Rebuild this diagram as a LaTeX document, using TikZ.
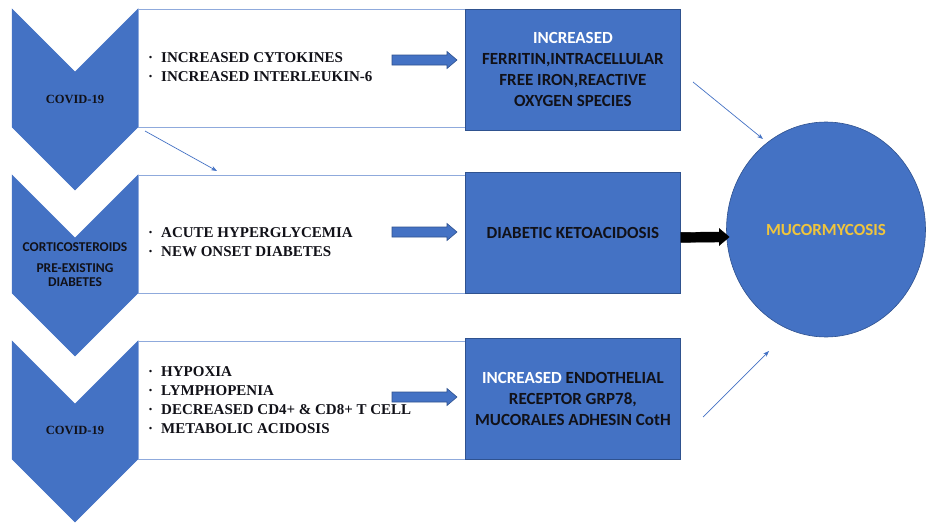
\documentclass[tikz,border=0pt]{standalone}
\usepackage{fontspec}
\setmainfont{Liberation Serif}
\newfontfamily\calfont{Carlito}
\usetikzlibrary{arrows.meta,shapes.geometric,calc}
\definecolor{obl}{HTML}{4472C4}
\definecolor{obd}{HTML}{2F528F}
\definecolor{wbd}{HTML}{8FAADC}
\definecolor{ink}{HTML}{111118}
\definecolor{gold}{HTML}{F0C53C}
\tikzset{
 chev/.style={fill=obl, draw=obl, line width=0.5pt},
 wbox/.style={draw=wbd, fill=white, line width=0.8pt, minimum width=327pt, minimum height=118pt, anchor=north west, inner sep=0pt},
 bbox/.style={draw=obd, fill=obl, line width=0.8pt, minimum width=215pt, minimum height=121pt, anchor=north west, inner sep=0pt, align=center, text=ink, font=\calfont\bfseries\fontsize{17}{21}\selectfont},
 bullets/.style={anchor=west, align=left, inner sep=0pt, text=ink, font=\bfseries\fontsize{15}{19}\selectfont},
 chevtxt/.style={inner sep=0pt, align=center, text=ink, font=\bfseries\fontsize{12.5}{15}\selectfont},
 chevsans/.style={inner sep=0pt, align=center, text=ink, font=\calfont\bfseries\fontsize{13.5}{14}\selectfont},
 barrow/.style={fill=obl, draw=obd, line width=0.6pt},
 karrow/.style={fill=black, draw=black, line width=0.4pt},
 link/.style={draw=obl, line width=0.7pt, -{Stealth[length=6pt,width=4.5pt]}},
 circ/.style={ellipse, fill=obl, draw=obd, line width=0.6pt, minimum width=199pt, minimum height=215pt, inner sep=0pt, text=gold, font=\calfont\bfseries\fontsize{17}{21}\selectfont}
}
\newcommand\chevron[1]{\path[chev, shift={(0,#1)}] (12,0) -- (75,63) -- (138,0) -- (138,118) -- (75,181) -- (12,118) -- cycle;}
\newcommand\blockarr[5]{% start, end, style, half shaft, half head
 \path[#3] ($(#1)+(0,-#4)$) -- ($(#2)+(-10,-#4)$) -- ($(#2)+(-10,-#5)$) -- (#2) -- ($(#2)+(-10,#5)$) -- ($(#2)+(-10,#4)$) -- ($(#1)+(0,#4)$) -- cycle;}
\newcommand\bl{\makebox[13pt][l]{·}}
\begin{document}
\begin{tikzpicture}[x=1pt,y=-1pt]
\useasboundingbox (0,0) rectangle (926,522);
% chevrons
\chevron{9}
\chevron{175}
\chevron{341}
% white boxes
\node[wbox] (w1) at (138,9) {};
\node[wbox] (w2) at (138,175) {};
\node[wbox] (w3) at (138,341) {};
% blue boxes
\node[bbox] (b1) at (465,9) {\textcolor{white}{INCREASED}\\FERRITIN,INTRACELLULAR\\FREE IRON,REACTIVE\\OXYGEN SPECIES};
\node[bbox] (b2) at (465,172) {DIABETIC KETOACIDOSIS};
\node[bbox] (b3) at (465,338) {\textcolor{white}{INCREASED} ENDOTHELIAL\\RECEPTOR GRP78,\\MUCORALES ADHESIN CotH};
% circle
\node[circ] (m) at (826,229.5) {MUCORMYCOSIS};
% chevron texts
\node[chevtxt] (c1) at (75,99) {COVID-19};
\node[chevsans] (c2a) at (75,247) {CORTICOSTEROIDS};
\node[chevsans] (c2b) at (75,275) {PRE-EXISTING\\DIABETES};
\node[chevtxt] (c3) at (75,430) {COVID-19};
% bullet texts
\node[bullets] (t1) at (148,67) {\bl INCREASED CYTOKINES\\\bl INCREASED INTERLEUKIN-6};
\node[bullets] (t2) at (148,242.5) {\bl ACUTE HYPERGLYCEMIA\\\bl NEW ONSET DIABETES};
\node[bullets] (t3) at (148,400) {\bl HYPOXIA\\\bl LYMPHOPENIA\\\bl DECREASED CD4+ \& CD8+ T CELL\\\bl METABOLIC ACIDOSIS};
% block arrows
\coordinate (s1) at (392,60); \coordinate (e1) at (457,60);
\coordinate (s2) at (392,232); \coordinate (e2) at (457,232);
\coordinate (s3) at (392,397); \coordinate (e3) at (457,397);
\blockarr{s1}{e1}{barrow}{5}{8.5}
\blockarr{s2}{e2}{barrow}{5}{8.5}
\blockarr{s3}{e3}{barrow}{5}{8.5}
\coordinate (ks) at ($(b2.east)+(0,4.5)$);
\coordinate (ke) at ($(m.west)+(3,7.5)$);
\blockarr{ks}{ke}{karrow}{5}{8.5}
% thin links
\coordinate (l1s) at (145,131); \coordinate (l1e) at (217,171);
\coordinate (l2s) at (693,82); \coordinate (l2e) at (763,139);
\coordinate (l3s) at (703,417); \coordinate (l3e) at (769,351);
\draw[link] (l1s) -- (l1e);
\draw[link] (l2s) -- (l2e);
\draw[link] (l3s) -- (l3e);
\end{tikzpicture}
\end{document}
